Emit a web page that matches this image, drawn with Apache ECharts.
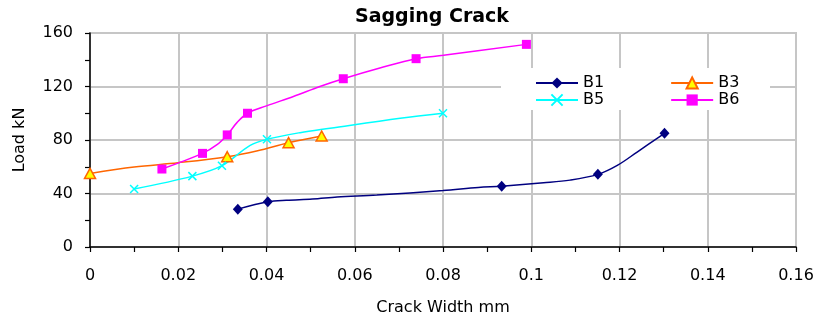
<!DOCTYPE html>
<html>
<head>
<meta charset="utf-8">
<script src="https://cdn.jsdelivr.net/npm/echarts@6/dist/echarts.min.js"></script>
<style>
  html, body { margin: 0; padding: 0; background: #fff; }
  #chart { width: 818px; height: 320px; }
</style>
</head>
<body>
<div id="chart"></div>
<script>
// Crack width (mm) against load (kN) for four beams.
// markN flags: 1 = point carries a marker, 0 = path point only.
const b1Width = [0.0335, 0.0403, 0.0445, 0.0504, 0.0560, 0.0650, 0.0800, 0.0880, 0.0933, 0.1028, 0.1088, 0.1151, 0.1195, 0.1240, 0.1302];
const b1Load  = [28.3, 33.8, 35.0, 35.8, 37.3, 38.8, 42.2, 44.5, 45.5, 48.0, 50.0, 54.3, 61.0, 71.0, 85.0];
const b1Mark  = [1, 1, 0, 0, 0, 0, 0, 0, 1, 0, 0, 1, 0, 0, 1];

const b3Width = [0, 0.0100, 0.0200, 0.0311, 0.0380, 0.0450, 0.0525];
const b3Load  = [55.0, 59.8, 63.0, 67.5, 72.0, 78.0, 83.0];
const b3Mark  = [1, 0, 0, 1, 0, 1, 1];

const b5Width = [0.0100, 0.0232, 0.0299, 0.0363, 0.0401, 0.0476, 0.0544, 0.0703, 0.0800];
const b5Load  = [43.3, 53.0, 60.8, 76.0, 80.5, 85.5, 88.8, 96.3, 100.0];
const b5Mark  = [1, 1, 1, 0, 1, 0, 0, 0, 1];

const b6Width = [0.0163, 0.0255, 0.0287, 0.0311, 0.0333, 0.0357, 0.0400, 0.0461, 0.0521, 0.0574, 0.0657, 0.0739, 0.0801, 0.0989];
const b6Load  = [58.3, 70.0, 76.3, 83.8, 93.0, 100.0, 105.5, 112.5, 120.0, 125.8, 133.8, 140.8, 143.3, 151.5];
const b6Mark  = [1, 1, 0, 1, 0, 1, 0, 0, 0, 1, 0, 1, 0, 1];

const seriesNames = ['B1', 'B3', 'B5', 'B6'];
const xTickLabels = ['0', '0.02', '0.04', '0.06', '0.08', '0.1', '0.12', '0.14', '0.16'];
const yTickLabels = ['0', '40', '80', '120', '160'];
const xStep = 0.02;
const yStep = 40;

const FONT = 'DejaVu Sans';

function points(xs, ys, marks) {
  return xs.map((x, i) => marks[i]
    ? { value: [x, ys[i]] }
    : { value: [x, ys[i]], symbol: 'none' });
}

const crossPath = 'path://M0,0L10,10M10,0L0,10';

const chart = echarts.init(document.getElementById('chart'), null, { renderer: 'canvas' });

const axisCommon = {
  axisLine: { show: true, onZero: false, lineStyle: { color: '#000', width: 1.5 } },
  axisTick: { show: true, inside: false, length: 5, lineStyle: { color: '#000', width: 1.2 } },
  minorTick: { show: true, splitNumber: 2, length: 5, lineStyle: { color: '#000', width: 1.2 } },
  splitLine: { show: true, lineStyle: { color: '#c6c6c6', width: 2 } },
  nameTextStyle: { fontFamily: FONT, fontSize: 16, color: '#000' }
};

const legendCommon = {
  left: 535, padding: 0,
  itemWidth: 42, itemHeight: 14, itemGap: 66,
  textStyle: { fontFamily: FONT, fontSize: 16, color: '#000' },
  selectedMode: false
};

chart.setOption({
  animation: false,
  backgroundColor: '#fff',
  title: {
    text: 'Sagging Crack',
    left: 355,
    top: 8,
    padding: 0,
    textStyle: { fontFamily: FONT, fontWeight: 'bold', fontSize: 19, color: '#000' }
  },
  grid: {
    left: 90, right: 22, top: 33, bottom: 73,
    show: true, borderColor: '#999', borderWidth: 1.5,
    backgroundColor: 'transparent',
    outerBoundsMode: 'none',
    containLabel: false
  },
  graphic: [{
    type: 'rect',
    left: 501, top: 68,
    shape: { width: 269, height: 42 },
    style: { fill: '#fff' },
    z: 1
  }],
  legend: [
    Object.assign({}, legendCommon, { data: [seriesNames[0], seriesNames[1]], top: 75 }),
    Object.assign({}, legendCommon, { data: [seriesNames[2], seriesNames[3]], top: 92 })
  ],
  xAxis: Object.assign({}, axisCommon, {
    type: 'value',
    min: 0, max: 0.16, interval: xStep,
    name: 'Crack Width mm',
    nameLocation: 'middle',
    nameGap: 53,
    axisLabel: {
      fontFamily: FONT, fontSize: 16, color: '#000', margin: 21,
      showMinLabel: true, showMaxLabel: true, hideOverlap: false,
      formatter: v => xTickLabels[Math.round(v / xStep)]
    }
  }),
  yAxis: Object.assign({}, axisCommon, {
    type: 'value',
    min: 0, max: 160, interval: yStep,
    name: 'Load kN',
    nameLocation: 'middle',
    nameGap: 62,
    axisLabel: {
      fontFamily: FONT, fontSize: 16, color: '#000', margin: 17,
      showMinLabel: true, showMaxLabel: true, hideOverlap: false,
      formatter: v => yTickLabels[Math.round(v / yStep)]
    }
  }),
  series: [
    {
      name: 'B1', type: 'line', z: 3,
      data: points(b1Width, b1Load, b1Mark),
      smooth: 0.35,
      symbol: 'diamond', symbolSize: [10, 11],
      lineStyle: { color: '#000080', width: 1.5 },
      itemStyle: { color: '#000080' }
    },
    {
      name: 'B3', type: 'line', z: 3,
      data: points(b3Width, b3Load, b3Mark),
      smooth: 0.35,
      symbol: 'triangle', symbolSize: [11, 10],
      lineStyle: { color: '#ff6600', width: 1.5 },
      itemStyle: { color: '#ffff00', borderColor: '#ff6600', borderWidth: 1.5 }
    },
    {
      name: 'B5', type: 'line', z: 3,
      data: points(b5Width, b5Load, b5Mark),
      smooth: 0.35,
      symbol: crossPath, symbolSize: 8,
      lineStyle: { color: '#00ffff', width: 1.5 },
      itemStyle: { color: '#00ffff', borderColor: '#00ffff', borderWidth: 1.5 }
    },
    {
      name: 'B6', type: 'line', z: 3,
      data: points(b6Width, b6Load, b6Mark),
      smooth: 0.35,
      symbol: 'rect', symbolSize: 9,
      lineStyle: { color: '#ff00ff', width: 1.5 },
      itemStyle: { color: '#ff00ff' }
    }
  ]
});
</script>
</body>
</html>
